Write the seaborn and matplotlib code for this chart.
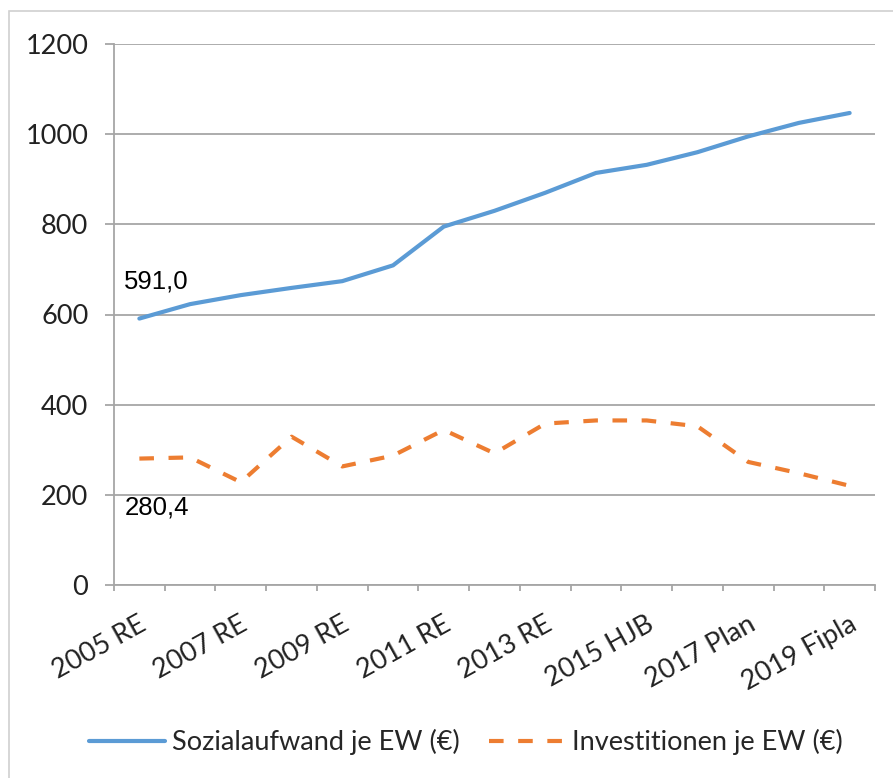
import matplotlib
matplotlib.use('Agg')
import matplotlib.pyplot as plt
import matplotlib.transforms as mtransforms
from matplotlib.patches import Rectangle
import numpy as np
import pandas as pd
import seaborn as sns

# Categories (only every second one is labelled on the axis)
categories = ['2005 RE', '2006 RE', '2007 RE', '2008 RE', '2009 RE', '2010 RE',
              '2011 RE', '2012 RE', '2013 RE', '2014 RE', '2015 HJB', '2016 Plan',
              '2017 Plan', '2018 Fipla', '2019 Fipla']
# Sozialaufwand je Einwohner (€)
sozialaufwand = [591.0, 623, 643, 659, 674, 709, 795, 830, 870, 914, 932, 960, 995, 1025, 1047]
# Investitionen je Einwohner (€)
investitionen = [280.4, 283, 228, 329, 263, 287, 344, 292, 358, 365, 365, 352, 273, 248, 220]

series_names = ['Sozialaufwand je EW (€)', 'Investitionen je EW (€)']
y_ticks = [0, 200, 400, 600, 800, 1000, 1200]

blue = '#5B9BD5'
orange = '#ED7D31'
grid_gray = '#a6a6a6'

# long format frame for seaborn
df = pd.DataFrame({
    'pos': list(range(len(categories))) * 2,
    'value': sozialaufwand + investitionen,
    'series': [series_names[0]] * len(categories) + [series_names[1]] * len(categories),
})

sns.set_style('white')
plt.rcParams['font.family'] = ['Lato', 'DejaVu Sans']

fig = plt.figure(figsize=(8.93, 7.78), dpi=100)
ax = fig.add_axes([114 / 893, 1 - 585 / 778, (875 - 114) / 893, (585 - 44) / 778])

sns.lineplot(data=df, x='pos', y='value', hue='series', style='series',
             palette={series_names[0]: blue, series_names[1]: orange},
             dashes={series_names[0]: '', series_names[1]: (3.5, 3.5)},
             linewidth=3, ax=ax)

# axes and grid
ax.set_xlim(-0.5, len(categories) - 0.5)
ax.set_ylim(0, 1200)
ax.set_yticks(y_ticks)
ax.set_yticklabels([str(t) for t in y_ticks], fontsize=19.5, color='#222222')
ax.yaxis.grid(True, color=grid_gray, linewidth=1.3)
ax.set_axisbelow(True)
ax.tick_params(axis='y', length=6.5, width=1.3, color=grid_gray, pad=12, left=True)

ax.set_xticks(range(len(categories)))
ax.set_xticklabels([c if i % 2 == 0 else '' for i, c in enumerate(categories)],
                   fontsize=19.5, color='#222222', rotation=29,
                   ha='right', va='center', rotation_mode='anchor')
ax.tick_params(axis='x', which='major', length=0, pad=27)
shift = mtransforms.ScaledTranslation(5 / 100, 0, fig.dpi_scale_trans)
for lab in ax.get_xticklabels():
    lab.set_transform(lab.get_transform() + shift)
ax.set_xticks(np.arange(-0.5, len(categories)), minor=True)
ax.tick_params(axis='x', which='minor', length=4.5, width=1.3, color=grid_gray, bottom=True)

for side in ['top', 'right']:
    ax.spines[side].set_visible(False)
for side in ['left', 'bottom']:
    ax.spines[side].set_color(grid_gray)
    ax.spines[side].set_linewidth(1.3)
ax.set_xlabel('')
ax.set_ylabel('')

# data labels for the first year
ax.annotate(f'{sozialaufwand[0]:.1f}'.replace('.', ','), (0, sozialaufwand[0]),
            xytext=(12, 27), textcoords='offset points', ha='center', va='center',
            fontsize=18.5, family=['Liberation Sans', 'DejaVu Sans'], color='black')
ax.annotate(f'{investitionen[0]:.1f}'.replace('.', ','), (0, investitionen[0]),
            xytext=(13, -35), textcoords='offset points', ha='center', va='center',
            fontsize=18.5, family=['Liberation Sans', 'DejaVu Sans'], color='black')

# legend at the bottom
handles, labels = ax.get_legend_handles_labels()
ax.get_legend().remove()
fig.legend(handles, labels, loc='center', bbox_to_anchor=(466 / 893, 1 - 742 / 778),
           ncol=2, frameon=False, fontsize=19.5, handlelength=2.8,
           handletextpad=0.25, columnspacing=1.1)

# light frame of the chart area
fig.patches.append(Rectangle((9 / 893, -0.05), 1.2, 1.05 - 11 / 778,
                             transform=fig.transFigure, fill=False,
                             edgecolor='#d0d0d0', linewidth=1.2))

fig.savefig('out.png', dpi=100)
